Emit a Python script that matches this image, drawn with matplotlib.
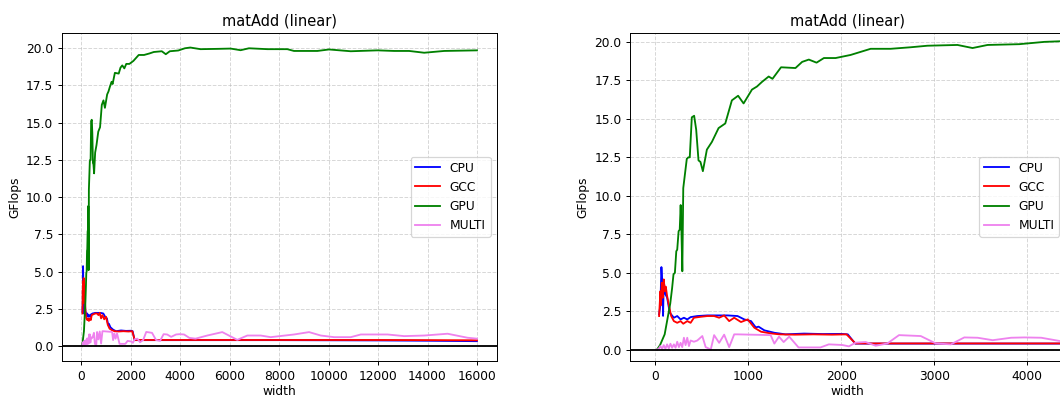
import matplotlib

matplotlib.use('agg')
import matplotlib.pyplot as plt

# Data (GFlops vs matrix width)
cpu_x = [40, 54, 65, 76, 83, 90, 108, 126, 155, 199, 235, 271, 307, 343, 379, 451, 560, 668, 776, 884,
         957, 1029, 1080, 1110, 1173, 1282, 1400, 1600, 1800, 2000, 2070, 2150, 4000, 8000, 12000, 14000, 16000]
cpu_y = [2.3, 2.9, 5.37, 4.2, 2.2, 4.5, 3.6, 3.4, 2.4, 2.08, 2.19, 1.97, 2.08, 1.97, 2.12, 2.19, 2.23, 2.23, 2.23, 2.19,
         1.97, 1.86, 1.45, 1.5, 1.26, 1.1, 1.0, 1.05, 1.02, 1.03, 1.0, 0.4, 0.4, 0.4, 0.38, 0.36, 0.33]

gcc_x = [40, 54, 61, 69, 79, 90, 101, 112, 126, 144, 170, 199, 235, 271, 300, 343, 379, 415, 487, 560,
         632, 686, 740, 794, 848, 921, 993, 1065, 1137, 1245, 1336, 1500, 1700, 1900, 2056, 2153, 4000, 8000,
         12000, 16000]
gcc_y = [2.19, 3.8, 2.9, 4.35, 3.38, 4.57, 3.8, 4.1, 3.5, 2.94, 2.19, 1.86, 1.75, 1.86, 1.69, 1.86, 1.75, 2.08, 2.14, 2.19,
         2.19, 2.08, 2.23, 1.86, 2.08, 1.8, 1.97, 1.43, 1.17, 1.06, 1.0, 0.98, 1.0, 0.98, 1.0, 0.41, 0.41, 0.41,
         0.41, 0.39]

gpu_x = [16, 50, 100, 130, 160, 180, 195, 210, 225, 235, 250, 262, 272, 280, 290, 300, 320, 338, 355, 370,
         392, 417, 439, 464, 485, 511, 554, 608, 680, 752, 823, 890, 949, 1039, 1093, 1147, 1219, 1260, 1352, 1507,
         1579, 1651, 1734, 1813, 1939, 2100, 2316, 2531, 2747, 2927, 3250, 3412, 3574, 3915, 4185, 4400, 4816,
         5500, 6033, 6438, 6776, 7518, 8328, 8598, 9543, 10016, 10894, 11974, 12650, 13257, 13865, 14675, 16000]
gpu_y = [0.0, 0.3, 1.0, 2.0, 3.0, 4.0, 4.9, 5.0, 6.4, 6.5, 7.7, 7.8, 9.4, 7.8, 5.1, 10.5, 11.5, 12.4, 12.5, 12.5,
         15.1, 15.2, 14.3, 12.3, 12.2, 11.6, 13.0, 13.5, 14.4, 14.7, 16.2, 16.5, 16.0, 16.9, 17.1, 17.4, 17.75, 17.6,
         18.35, 18.3, 18.7, 18.85, 18.65, 18.95, 18.95, 19.15, 19.55, 19.55, 19.65, 19.75, 19.8, 19.6, 19.8, 19.85,
         20.0, 20.05, 19.94, 19.96, 19.98, 19.87, 20.0, 19.94, 19.94, 19.82, 19.82, 19.92, 19.8, 19.86, 19.82,
         19.82, 19.7, 19.82, 19.86]

multi_x = [11, 36, 54, 72, 90, 108, 126, 144, 162, 180, 199, 217, 235, 253, 271, 289, 307, 325, 343, 361,
           379, 415, 451, 505, 541, 596, 632, 686, 740, 794, 848, 884, 1240, 1280, 1330, 1380, 1440, 1540, 1776,
           1866, 2010, 2082, 2154, 2262, 2370, 2496, 2621, 2855, 3017, 3179, 3323, 3467, 3629, 3827, 3971, 4151,
           4367, 4617, 5090, 5697, 6305, 6710, 7250, 7655, 8600, 9208, 9681, 10221, 10896, 11301, 12381, 13057,
           13867, 14812, 15622, 16000]
multi_y = [0.0, 0.06, 0.24, 0.06, 0.3, 0.06, 0.35, 0.09, 0.39, 0.13, 0.35, 0.13, 0.52, 0.17, 0.45, 0.17, 0.78, 0.3,
           0.78, 0.24, 0.6, 0.52, 0.6, 0.89, 0.17, 0.02, 0.95, 0.45, 0.98, 0.17, 1.0, 1.0, 0.95, 0.4, 0.85, 0.5,
           0.85, 0.15, 0.15, 0.35, 0.31, 0.22, 0.46, 0.5, 0.26, 0.41, 0.95, 0.89, 0.41, 0.35, 0.8, 0.78, 0.62, 0.78,
           0.8, 0.78, 0.55, 0.5, 0.71, 0.94, 0.42, 0.71, 0.71, 0.6, 0.78, 0.94, 0.71, 0.6, 0.6, 0.78, 0.78, 0.67,
           0.71, 0.83, 0.56, 0.5]


def draw_panel(ax, xlim, ylim):
    ax.plot(cpu_x, cpu_y, color='blue', linewidth=1.5, label='CPU')
    ax.plot(gcc_x, gcc_y, color='red', linewidth=1.5, label='GCC')
    ax.plot(gpu_x, gpu_y, color='green', linewidth=1.5, label='GPU')
    ax.plot(multi_x, multi_y, color='violet', linewidth=1.5, label='MULTI')
    ax.axhline(0, color='black', linewidth=1.5)
    ax.grid(True, linestyle='--', alpha=0.5)
    ax.set_xlim(xlim)
    ax.set_ylim(ylim)
    ax.set_title('matAdd (linear)')
    ax.set_xlabel('width', labelpad=2)
    ax.set_ylabel('GFlops')
    ax.legend(loc='center right')


def plot():
    # the reference looks like a downscaled render, so use a lower dpi
    dpi = 88
    fig = plt.figure(figsize=(1060 / dpi, 398 / dpi), dpi=dpi)
    ax_left = fig.add_axes([0.0582, 0.093, 0.4104, 0.825])
    ax_right = fig.add_axes([0.5946, 0.093, 0.4104, 0.825])

    draw_panel(ax_left, (-800, 16800), (-1.0, 21.05))
    draw_panel(ax_right, (-270, 4410), (-0.73, 20.6))

    fig.savefig('out.png', dpi=dpi)


if __name__ == "__main__":
    plot()
